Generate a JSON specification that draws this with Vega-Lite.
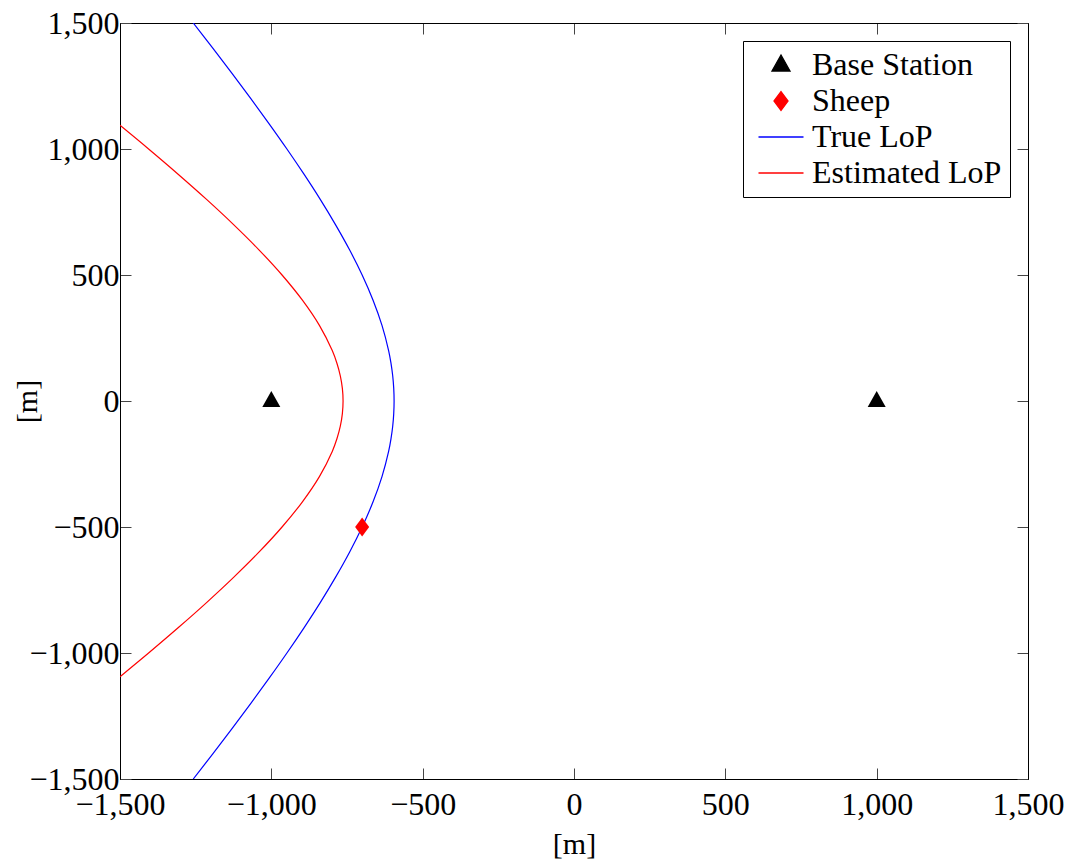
{
  "$schema": "https://vega.github.io/schema/vega-lite/v6.json",
  "width": 908,
  "height": 756,
  "autosize": {"type": "none"},
  "padding": {"left": 120, "top": 23, "right": 39, "bottom": 85},
  "background": "white",
  "config": {
    "font": "'Liberation Serif', 'Times New Roman', serif",
    "view": {"stroke": "black", "strokeWidth": 1},
    "axis": {
      "grid": false,
      "domainColor": "black",
      "tickColor": "#444444",
      "tickSize": -11,
      "labelFontSize": 32,
      "titleFontSize": 30,
      "titleFontWeight": "normal",
      "labelColor": "black",
      "titleColor": "black",
      "labelFont": "'Liberation Serif', 'Times New Roman', serif",
      "titleFont": "'Liberation Serif', 'Times New Roman', serif"
    },
    "legend": {
      "orient": "top-right",
      "offset": 18,
      "strokeColor": "black",
      "fillColor": "white",
      "padding": 8,
      "cornerRadius": 0,
      "labelFontSize": 32,
      "labelFont": "'Liberation Serif', 'Times New Roman', serif",
      "labelColor": "black",
      "labelLimit": 500,
      "symbolSize": 324,
      "rowPadding": 4,
      "symbolOffset": 14,
      "labelOffset": 15
    }
  },
  "datasets": {
    "curves": [
      {"series": "True LoP", "x": -1258.0, "y": -1500},
      {"series": "True LoP", "x": -1193.4, "y": -1400},
      {"series": "True LoP", "x": -1129.9, "y": -1300},
      {"series": "True LoP", "x": -1067.7, "y": -1200},
      {"series": "True LoP", "x": -1007.2, "y": -1100},
      {"series": "True LoP", "x": -948.5, "y": -1000},
      {"series": "True LoP", "x": -892.1, "y": -900},
      {"series": "True LoP", "x": -838.4, "y": -800},
      {"series": "True LoP", "x": -788.1, "y": -700},
      {"series": "True LoP", "x": -741.6, "y": -600},
      {"series": "True LoP", "x": -699.9, "y": -500},
      {"series": "True LoP", "x": -663.9, "y": -400},
      {"series": "True LoP", "x": -634.4, "y": -300},
      {"series": "True LoP", "x": -612.5, "y": -200},
      {"series": "True LoP", "x": -604.7, "y": -150},
      {"series": "True LoP", "x": -599.0, "y": -100},
      {"series": "True LoP", "x": -595.6, "y": -50},
      {"series": "True LoP", "x": -594.4, "y": 0},
      {"series": "True LoP", "x": -595.6, "y": 50},
      {"series": "True LoP", "x": -599.0, "y": 100},
      {"series": "True LoP", "x": -604.7, "y": 150},
      {"series": "True LoP", "x": -612.5, "y": 200},
      {"series": "True LoP", "x": -634.4, "y": 300},
      {"series": "True LoP", "x": -663.9, "y": 400},
      {"series": "True LoP", "x": -699.9, "y": 500},
      {"series": "True LoP", "x": -741.6, "y": 600},
      {"series": "True LoP", "x": -788.1, "y": 700},
      {"series": "True LoP", "x": -838.4, "y": 800},
      {"series": "True LoP", "x": -892.1, "y": 900},
      {"series": "True LoP", "x": -948.5, "y": 1000},
      {"series": "True LoP", "x": -1007.2, "y": 1100},
      {"series": "True LoP", "x": -1067.7, "y": 1200},
      {"series": "True LoP", "x": -1129.9, "y": 1300},
      {"series": "True LoP", "x": -1193.4, "y": 1400},
      {"series": "True LoP", "x": -1258.0, "y": 1500},
      {"series": "Estimated LoP", "x": -1500.0, "y": -1094},
      {"series": "Estimated LoP", "x": -1405.5, "y": -1000},
      {"series": "Estimated LoP", "x": -1308.0, "y": -900},
      {"series": "Estimated LoP", "x": -1214.0, "y": -800},
      {"series": "Estimated LoP", "x": -1124.7, "y": -700},
      {"series": "Estimated LoP", "x": -1041.0, "y": -600},
      {"series": "Estimated LoP", "x": -964.6, "y": -500},
      {"series": "Estimated LoP", "x": -897.3, "y": -400},
      {"series": "Estimated LoP", "x": -841.2, "y": -300},
      {"series": "Estimated LoP", "x": -798.7, "y": -200},
      {"series": "Estimated LoP", "x": -783.3, "y": -150},
      {"series": "Estimated LoP", "x": -772.1, "y": -100},
      {"series": "Estimated LoP", "x": -765.3, "y": -50},
      {"series": "Estimated LoP", "x": -763.0, "y": 0},
      {"series": "Estimated LoP", "x": -765.3, "y": 50},
      {"series": "Estimated LoP", "x": -772.1, "y": 100},
      {"series": "Estimated LoP", "x": -783.3, "y": 150},
      {"series": "Estimated LoP", "x": -798.7, "y": 200},
      {"series": "Estimated LoP", "x": -841.2, "y": 300},
      {"series": "Estimated LoP", "x": -897.3, "y": 400},
      {"series": "Estimated LoP", "x": -964.6, "y": 500},
      {"series": "Estimated LoP", "x": -1041.0, "y": 600},
      {"series": "Estimated LoP", "x": -1124.7, "y": 700},
      {"series": "Estimated LoP", "x": -1214.0, "y": 800},
      {"series": "Estimated LoP", "x": -1308.0, "y": 900},
      {"series": "Estimated LoP", "x": -1405.5, "y": 1000},
      {"series": "Estimated LoP", "x": -1500.0, "y": 1094}
    ],
    "points": [
      {"series": "Base Station", "x": -1000, "y": 0},
      {"series": "Base Station", "x": 1000, "y": 0},
      {"series": "Sheep", "x": -700, "y": -500}
    ]
  },
  "layer": [
    {
      "data": {"name": "curves"},
      "mark": {"type": "line", "strokeWidth": 1.2, "interpolate": "catmull-rom", "clip": true},
      "encoding": {
        "x": {
          "field": "x", "type": "quantitative",
          "scale": {"domain": [-1500, 1500], "nice": false, "zero": false},
          "axis": {"orient": "bottom", "values": [-1500, -1000, -500, 0, 500, 1000, 1500], "format": ",.0f", "title": "[m]", "labelPadding": 21, "titlePadding": 9, "labelFlush": false}
        },
        "y": {
          "field": "y", "type": "quantitative",
          "scale": {"domain": [-1500, 1500], "nice": false, "zero": false},
          "axis": {"orient": "left", "values": [-1500, -1000, -500, 0, 500, 1000, 1500], "format": ",.0f", "title": "[m]", "labelPadding": 12, "titlePadding": -14, "labelFlush": false}
        },
        "order": {"field": "y", "type": "quantitative"},
        "detail": {"field": "series"},
        "color": {
          "field": "series", "type": "nominal",
          "scale": {"domain": ["Base Station", "Sheep", "True LoP", "Estimated LoP"], "range": ["black", "red", "blue", "red"]},
          "legend": {
            "title": null,
            "encode": {"symbols": {"update": {"stroke": {"scale": "color", "field": "value"}, "strokeWidth": {"value": 1.3}}}}
          }
        }
      }
    },
    {
      "data": {"name": "points"},
      "mark": {"type": "point", "filled": true, "opacity": 1, "size": 324},
      "encoding": {
        "x": {
          "field": "x", "type": "quantitative",
          "scale": {"domain": [-1500, 1500], "nice": false, "zero": false},
          "axis": {"orient": "top", "values": [-1500, -1000, -500, 0, 500, 1000, 1500], "labels": false, "title": null}
        },
        "y": {
          "field": "y", "type": "quantitative",
          "scale": {"domain": [-1500, 1500], "nice": false, "zero": false},
          "axis": {"orient": "right", "values": [-1500, -1000, -500, 0, 500, 1000, 1500], "labels": false, "title": null}
        },
        "color": {
          "field": "series", "type": "nominal",
          "scale": {"domain": ["Base Station", "Sheep", "True LoP", "Estimated LoP"], "range": ["black", "red", "blue", "red"]},
          "legend": {
            "title": null,
            "encode": {"symbols": {"update": {"stroke": {"scale": "color", "field": "value"}, "strokeWidth": {"value": 1.3}}}}
          }
        },
        "shape": {
          "field": "series", "type": "nominal",
          "scale": {"domain": ["Base Station", "Sheep", "True LoP", "Estimated LoP"], "range": ["M0,-1.11L1,0.67L-1,0.67Z", "M0,-1.05L0.78,0L0,1.05L-0.78,0Z", "M-2.5,0L2.5,0", "M-2.5,0L2.5,0"]},
          "legend": {"title": null}
        }
      }
    }
  ],
  "resolve": {"axis": {"x": "independent", "y": "independent"}}
}
